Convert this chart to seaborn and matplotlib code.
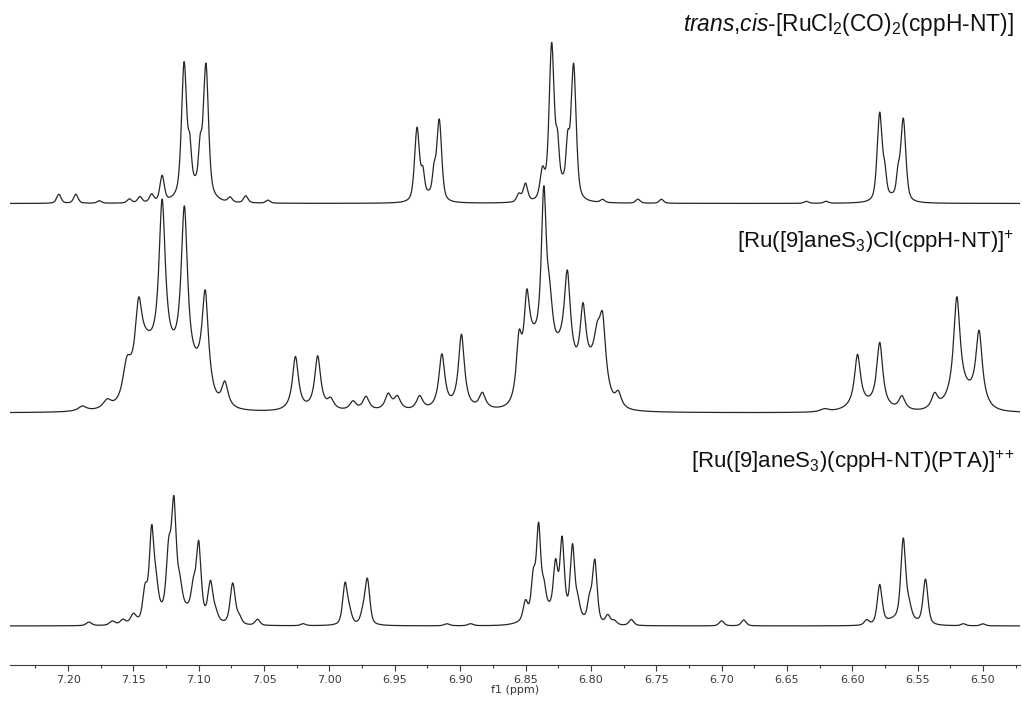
import numpy as np
import pandas as pd
import matplotlib
matplotlib.use("Agg")
import matplotlib.pyplot as plt
from matplotlib.ticker import MultipleLocator
import seaborn as sns

# ---------------- data ----------------
trace_names = [
    "trans,cis-[RuCl2(CO)2(cppH-NT)]",
    "[Ru([9]aneS3)Cl(cppH-NT)]+",
    "[Ru([9]aneS3)(cppH-NT)(PTA)]++",
]
trace_labels = [
    r"$\mathit{trans}$,$\mathit{cis}$-[RuCl$_2$(CO)$_2$(cppH-NT)]",
    r"[Ru([9]aneS$_3$)Cl(cppH-NT)]$^{+}$",
    r"[Ru([9]aneS$_3$)(cppH-NT)(PTA)]$^{{+}{+}}$",
]
label_sizes = [16.4, 16, 16]

# trace 1: resonance lines (ppm, height, half-width)
t1_ppm = [7.207, 7.194, 7.176, 7.153, 7.145, 7.136, 7.128, 7.1112, 7.1068, 7.0989, 7.0945, 7.076, 7.064, 7.047,
          6.9330, 6.9285, 6.9200, 6.9160, 6.855, 6.850, 6.837, 6.8300, 6.8255, 6.8177, 6.8132, 6.791, 6.764, 6.746,
          6.635, 6.620, 6.5790, 6.5750, 6.5650, 6.5610]
t1_h = [9, 9, 2.5, 4, 6, 8, 26, 129, 35, 35, 128, 5, 7, 3,
        72, 22, 22, 80, 8, 18, 28, 151, 38, 40, 131, 3, 4, 4,
        2, 2, 88, 20, 20, 82]
t1_w = [.002, .002, .002, .002, .002, .002, .002, .0023, .0015, .0015, .0023, .002, .002, .002,
        .0022, .0015, .0015, .0022, .002, .002, .0022, .0023, .0015, .0015, .0023, .002, .002, .002,
        .002, .002, .0023, .0015, .0015, .0023]
t1_hump_ppm = [7.103, 6.9245, 6.8215, 6.570]
t1_hump_h = [14, 6, 14, 4]
t1_hump_w = [.009, .006, .006, .006]

# trace 2
t2_ppm = [7.189, 7.170, 7.155, 7.146, 7.128, 7.111, 7.095, 7.080,
          7.026, 7.009, 6.999, 6.982, 6.972, 6.955, 6.948, 6.931, 6.914, 6.899, 6.883,
          6.855, 6.849, 6.836, 6.8315, 6.818, 6.806, 6.795, 6.791, 6.779,
          6.621, 6.596, 6.579, 6.562, 6.537, 6.520, 6.503]
t2_h = [5, 9, 37, 59, 159, 162, 97, 25,
        54, 54, 10, 9, 14, 16, 13, 14, 55, 75, 16,
        55, 65, 170, 50, 85, 70, 30, 60, 15,
        3, 52, 65, 14, 15, 100, 72]
t2_w = [.004, .004, .004, .003, .003, .003, .003, .003,
        .0028, .0028, .003, .003, .003, .003, .003, .003, .0028, .0028, .003,
        .0025, .0025, .0025, .003, .0028, .0028, .003, .0028, .003,
        .004, .0028, .0028, .003, .003, .003, .003]
t2_hump_ppm = [7.122, 7.142, 7.100, 6.845, 6.822, 6.797, 6.590, 6.515]
t2_hump_h = [45, 40, 15, 50, 50, 35, 5, 15]
t2_hump_w = [.014, .007, .006, .006, .010, .007, .012, .010]

# trace 3
t3_ppm = [7.184, 7.166, 7.158, 7.150, 7.141, 7.136, 7.1325, 7.123, 7.119, 7.1145, 7.104, 7.100, 7.091, 7.087,
          7.074, 7.069, 7.055, 7.020,
          6.988, 6.9845, 6.9745, 6.971, 6.910, 6.892,
          6.850, 6.844, 6.840, 6.836, 6.827, 6.822, 6.814, 6.810, 6.801, 6.797, 6.787, 6.782, 6.769,
          6.700, 6.683, 6.589, 6.579, 6.561, 6.5565, 6.544, 6.515, 6.500]
t3_h = [3.5, 4, 5, 9, 30, 86, 25, 57, 103, 22, 25, 70, 37, 8,
        41, 7, 6, 2,
        41, 10, 10, 45, 2, 2,
        18, 38, 85, 22, 45, 70, 68, 15, 20, 62, 9, 4, 6,
        5, 6, 5, 39, 80, 12, 45, 2, 2]
t3_w = [.0025, .0025, .0025, .0025, .0021, .0021, .0021, .0021, .0021, .0021, .0021, .0021, .0022, .0022,
        .0023, .0022, .0022, .0022,
        .0022, .0022, .0022, .0022, .0025, .0025,
        .0021, .0019, .0019, .0019, .0019, .0019, .0019, .0019, .0019, .0021, .0022, .0022, .0022,
        .0022, .0022, .0022, .0022, .0022, .0022, .0022, .0022, .0022]
t3_hump_ppm = [7.115, 6.828, 6.563]
t3_hump_h = [15, 15, 6]
t3_hump_w = [.015, .014, .010]

# lineshape mix (Lorentzian fraction) per trace
lorentz_frac = [0.5, 1.0, 0.5]

# vertical stacking offsets of the three spectra (axis units = pixels)
offsets = [461.5, 252.0, 39.0]

tick_values = [7.20, 7.15, 7.10, 7.05, 7.00, 6.95, 6.90, 6.85, 6.80, 6.75, 6.70, 6.65, 6.60, 6.55, 6.50]

# ---------------- build spectra ----------------
x_lo, x_hi = 6.4717, 7.2444
grid = np.linspace(x_lo, x_hi, 9000)


def spectrum(ppm, h, w, hp, hh, hw, eta):
    y = np.zeros_like(grid)
    for p, a, g in zip(ppm, h, w):
        u = (grid - p) / g
        y += a * (eta / (1.0 + u ** 2) + (1 - eta) * np.exp(-np.log(2) * u ** 2))
    for p, a, s in zip(hp, hh, hw):
        y += a * np.exp(-0.5 * ((grid - p) / s) ** 2)
    return y


specs = [
    spectrum(t1_ppm, t1_h, t1_w, t1_hump_ppm, t1_hump_h, t1_hump_w, lorentz_frac[0]),
    spectrum(t2_ppm, t2_h, t2_w, t2_hump_ppm, t2_hump_h, t2_hump_w, lorentz_frac[1]),
    spectrum(t3_ppm, t3_h, t3_w, t3_hump_ppm, t3_hump_h, t3_hump_w, lorentz_frac[2]),
]
frames = []
for name, off, s in zip(trace_names, offsets, specs):
    frames.append(pd.DataFrame({"ppm": grid, "intensity": s + off, "trace": name}))
df = pd.concat(frames, ignore_index=True)

# ---------------- plot ----------------
sns.set_theme(style="white")
plt.rcParams["font.family"] = ["DejaVu Sans"]
plt.rcParams["mathtext.fontset"] = "custom"
plt.rcParams["mathtext.rm"] = "Liberation Sans"
plt.rcParams["mathtext.it"] = "Liberation Sans:italic"
plt.rcParams["mathtext.sf"] = "Liberation Sans"
plt.rcParams["mathtext.bf"] = "Liberation Sans:bold"

fig = plt.figure(figsize=(10.22, 7.04), dpi=100)
ax = fig.add_axes([10 / 1022, 39 / 704, 1010 / 1022, 665 / 704])

sns.lineplot(data=df, x="ppm", y="intensity", hue="trace", hue_order=trace_names,
             palette=["#262626"] * 3, estimator=None, sort=False, legend=False,
             linewidth=0.9, ax=ax)

ax.set_xlim(x_hi, x_lo)
ax.set_ylim(0, 665)
ax.set_yticks([])
ax.set_ylabel("")
ax.set_xticks(tick_values)
ax.set_xticklabels([f"{v:.2f}" for v in tick_values])
ax.xaxis.set_minor_locator(MultipleLocator(0.025))
ax.tick_params(axis="x", which="both", bottom=True, direction="out", colors="#3a3a3a",
               labelsize=8, pad=3)
ax.tick_params(axis="x", which="major", length=4.5, width=0.8)
ax.tick_params(axis="x", which="minor", length=2.2, width=0.8)
ax.set_xlabel("f1 (ppm)", fontsize=8, labelpad=0, color="#333333")
for side in ["left", "top", "right"]:
    ax.spines[side].set_visible(False)
ax.spines["bottom"].set_color("#3a3a3a")
ax.spines["bottom"].set_linewidth(0.8)
ax.set_facecolor("white")

label_y = [25, 242, 462]
for lab, yp, fs in zip(trace_labels, label_y, label_sizes):
    fig.text(1014 / 1022, 1 - yp / 704, lab, ha="right", va="center",
             fontsize=fs, color="#111111", family="Liberation Sans")

fig.savefig("out.png", dpi=100, facecolor="white")
